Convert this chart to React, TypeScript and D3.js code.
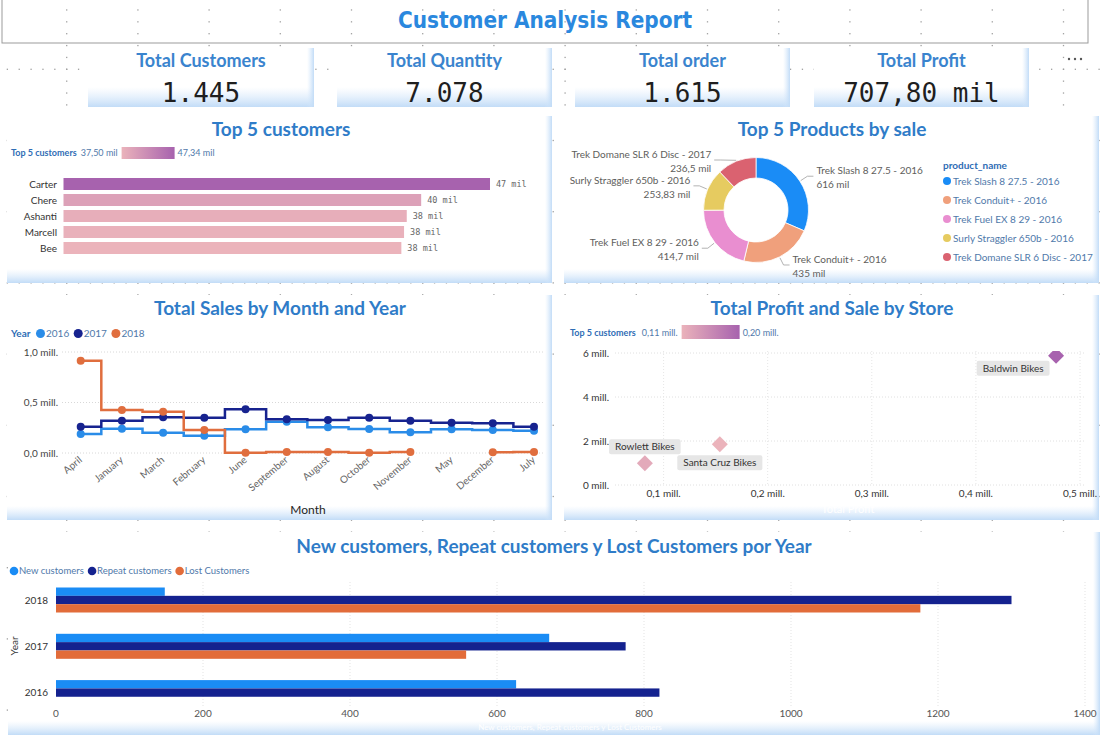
import React from 'react';
import * as d3 from 'd3';

const W = 1107;
const H = 735;

// ---------- data ----------
const kpiLabels = ['Total Customers', 'Total Quantity', 'Total order', 'Total Profit'];
const kpiValues = ['1.445', '7.078', '1.615', '707,80 mil'];

const customerNames = ['Carter', 'Chere', 'Ashanti', 'Marcell', 'Bee'];
const customerSales = [47.34, 39.7, 38.1, 37.8, 37.5]; // mil
const customerRange = [37.5, 47.34];
const customerRangeLabels = ['37,50 mil', '47,34 mil'];

const productNames = [
  'Trek Slash 8 27.5 - 2016',
  'Trek Conduit+ - 2016',
  'Trek Fuel EX 8 29 - 2016',
  'Surly Straggler 650b - 2016',
  'Trek Domane SLR 6 Disc - 2017',
];
const productSales = [616, 435, 414.7, 253.83, 236.5];
const productSalesLabels = ['616 mil', '435 mil', '414,7 mil', '253,83 mil', '236,5 mil'];
const productColors = ['#1A8CF6', '#F0A07C', '#E98ED0', '#E6CB60', '#DA6270'];

const months = ['April', 'January', 'March', 'February', 'June', 'September', 'August', 'October', 'November', 'May', 'December', 'July'];
const salesYears = ['2016', '2017', '2018'];
const sales2016 = [0.188, 0.24, 0.2, 0.17, 0.235, 0.31, 0.254, 0.238, 0.205, 0.235, 0.228, 0.22];
const sales2017 = [0.26, 0.32, 0.353, 0.35, 0.433, 0.334, 0.327, 0.35, 0.32, 0.3, 0.294, 0.26];
const sales2018: (number | null)[] = [0.914, 0.426, 0.409, 0.228, 0.003, 0.01, 0.01, 0.003, 0.01, null, 0.008, 0.01];
const yearColors = ['#2A8CE8', '#17238F', '#E06E3E'];
const salesTicks = [0, 0.5, 1];
const salesTickLabels = ['0,0 mill.', '0,5 mill.', '1,0 mill.'];

const storeNames = ['Baldwin Bikes', 'Santa Cruz Bikes', 'Rowlett Bikes'];
const storeProfit = [0.477, 0.154, 0.082]; // mill.
const storeSales = [5.88, 1.85, 0.99]; // mill.
const storeColorMeasure = [0.2, 0.11, 0.12];
const storeColorRange = [0.11, 0.2];
const storeColorRangeLabels = ['0,11 mill.', '0,20 mill.'];
const storeLabelPlacement = ['leftBelow', 'below', 'above'];
const storeSalesTicks = [0, 2, 4, 6];
const storeSalesTickLabels = ['0 mill.', '2 mill.', '4 mill.', '6 mill.'];
const storeProfitTicks = [0.1, 0.2, 0.3, 0.4, 0.5];
const storeProfitTickLabels = ['0,1 mill.', '0,2 mill.', '0,3 mill.', '0,4 mill.', '0,5 mill.'];

const customerYears = ['2018', '2017', '2016'];
const customerSeries = ['New customers', 'Repeat customers', 'Lost Customers'];
const newCustomers = [148, 671, 626];
const repeatCustomers = [1300, 775, 821];
const lostCustomers = [1176, 558, 0];
const seriesColors = ['#1A8CF5', '#14228F', '#E26C3A'];
const countTicks = [0, 200, 400, 600, 800, 1000, 1200, 1400];

// ---------- styling helpers ----------
const SANS = "Lato, 'Open Sans', sans-serif";
const MONO = "'DejaVu Sans Mono', 'Liberation Mono', monospace";
const TITLE_BLUE = '#2F7CC8';
const LEGEND_TEXT = '#5079AA';

let measureCtx: CanvasRenderingContext2D | null = null;
function textWidth(text: string, font: string): number {
  if (!measureCtx && typeof document !== 'undefined') {
    measureCtx = document.createElement('canvas').getContext('2d');
  }
  if (!measureCtx) return text.length * 5;
  measureCtx.font = font;
  return measureCtx.measureText(text).width;
}

function GridDots() {
  const step = 71.2;
  const x0 = 66.7;
  const y0 = -1.9;
  const dot = step / 6;
  const dots: [number, number][] = [];
  for (let gx = x0; gx < W; gx += step) for (let y = y0; y < H; y += dot) dots.push([gx, y]);
  for (let gy = y0; gy < H; gy += step) for (let x = x0 - step; x < W; x += dot) dots.push([x, gy]);
  return (
    <g fill="#a0a0a0">
      {dots.map(([x, y], i) => (
        <rect key={i} x={x - 0.65} y={y - 0.65} width={1.3} height={1.3} />
      ))}
    </g>
  );
}

function Panel({ x, y, w, h, bottom = 14 }: { x: number; y: number; w: number; h: number; bottom?: number }) {
  return (
    <g>
      <rect x={x} y={y} width={w} height={h} fill="#fff" />
      <rect x={x} y={y + h - bottom} width={w} height={bottom} fill="url(#shadeB)" />
      <rect x={x + w - 7} y={y} width={7} height={h} fill="url(#shadeR)" />
    </g>
  );
}

function PanelTitle({ x, y, text }: { x: number; y: number; text: string }) {
  return (
    <text x={x} y={y} textAnchor="middle" fontFamily={SANS} fontWeight={700} fontSize={19} fill={TITLE_BLUE}>
      {text}
    </text>
  );
}

// ---------- KPI cards ----------
function Cards() {
  const xs = [88, 337, 575, 814];
  const ws = [226, 215, 215, 215];
  return (
    <g>
      {kpiLabels.map((label, i) => (
        <g key={label}>
          <Panel x={xs[i]} y={48} w={ws[i]} h={59} bottom={20} />
          <text x={xs[i] + ws[i] / 2} y={67} textAnchor="middle" fontFamily={SANS} fontWeight={700} fontSize={18} fill="#3A84CE">
            {label}
          </text>
          <text x={xs[i] + ws[i] / 2} y={102} textAnchor="middle" fontFamily={MONO} fontSize={26} fill="#1f1f1f">
            {kpiValues[i]}
          </text>
        </g>
      ))}
      {[0, 1, 2].map((k) => (
        <circle key={k} cx={1069 + k * 6} cy={59} r={1.2} fill="#555" />
      ))}
    </g>
  );
}

// ---------- Top 5 customers ----------
function TopCustomers() {
  const x = d3.scaleLinear().domain([0, customerRange[1]]).range([63.5, 490]);
  const y = d3.scaleBand().domain(customerNames).range([176, 256]).paddingInner(0.25).paddingOuter(0.125);
  const color = d3.scaleLinear<string>().domain(customerRange).range(['#EBB3BB', '#A762AE']);
  const legendFont = `9px ${SANS}`;
  const lx0 = 11;
  const lx1 = lx0 + textWidth('Top 5 customers', `bold ${legendFont}`) + 4;
  const lx2 = lx1 + textWidth(customerRangeLabels[0], legendFont) + 4;
  const lx3 = lx2 + 53 + 3;
  return (
    <g>
      <Panel x={7} y={116} w={545} h={167} />
      <PanelTitle x={281} y={136} text="Top 5 customers" />
      <g fontFamily={SANS} fontSize={9}>
        <text x={lx0} y={156} fontWeight={700} fill="#2F6DB5">Top 5 customers</text>
        <text x={lx1} y={156} fill={LEGEND_TEXT}>{customerRangeLabels[0]}</text>
        <rect x={lx2} y={147} width={53} height={12} fill="url(#custGrad)" />
        <text x={lx3} y={156} fill={LEGEND_TEXT}>{customerRangeLabels[1]}</text>
      </g>
      {customerNames.map((name, i) => {
        const v = customerSales[i];
        const yy = y(name)!;
        const bw = y.bandwidth();
        return (
          <g key={name}>
            <rect x={x(0)} y={yy} width={x(v) - x(0)} height={bw} fill={color(v)} />
            <text x={57} y={yy + bw / 2 + 3.5} textAnchor="end" fontFamily={SANS} fontSize={10} fill="#333">
              {name}
            </text>
            <text x={x(v) + 6} y={yy + bw / 2 + 3} fontFamily={MONO} fontSize={8.5} fill="#666">
              {`${Math.round(v)} mil`}
            </text>
          </g>
        );
      })}
    </g>
  );
}

// ---------- Top 5 products donut ----------
function TopProducts() {
  const cx = 756;
  const cy = 210;
  const R = 52.5;
  const r = 32;
  const arcs = d3.pie<number>().sort(null).value((d) => d)(productSales);
  const arcGen = d3.arc<d3.PieArcDatum<number>>().innerRadius(r).outerRadius(R);
  const minLabelY = 160;
  return (
    <g>
      <Panel x={564} y={116} w={535} h={167} />
      <PanelTitle x={832} y={136} text="Top 5 Products by sale" />
      <g transform={`translate(${cx},${cy})`}>
        {arcs.map((a, i) => (
          <path key={i} d={arcGen(a)!} fill={productColors[i]} stroke="#fff" strokeWidth={0.8} />
        ))}
      </g>
      {arcs.map((a, i) => {
        const mid = (a.startAngle + a.endAngle) / 2;
        const right = Math.sin(mid) > 0;
        const p1 = [cx + (R + 1) * Math.sin(mid), cy - (R + 1) * Math.cos(mid)];
        const r2 = R + 9;
        let ly = cy - r2 * Math.cos(mid);
        ly = Math.max(ly, minLabelY);
        const dx = Math.sqrt(Math.max(0, r2 * r2 - (ly - cy) * (ly - cy)));
        const p2 = [cx + (right ? dx : -dx), ly];
        const p3 = [p2[0] + (right ? 6 : -6), ly];
        const tx = p3[0] + (right ? 3 : -3);
        return (
          <g key={i}>
            <polyline points={`${p1} ${p2} ${p3}`} fill="none" stroke="#a0a0a0" strokeWidth={0.8} />
            <text x={tx} y={ly - 2} textAnchor={right ? 'start' : 'end'} fontFamily={SANS} fontSize={10} fill="#605E5C">
              {productNames[i]}
            </text>
            <text x={tx} y={ly + 12} textAnchor={right ? 'start' : 'end'} fontFamily={SANS} fontSize={10} fill="#605E5C">
              {productSalesLabels[i]}
            </text>
          </g>
        );
      })}
      <text x={943} y={169} fontFamily={SANS} fontSize={10} fontWeight={700} fill="#2F6DB5">
        product_name
      </text>
      {productNames.map((n, i) => (
        <g key={n}>
          <circle cx={947} cy={181 + i * 19} r={4} fill={productColors[i]} />
          <text x={953} y={184.5 + i * 19} fontFamily={SANS} fontSize={10} fill={LEGEND_TEXT}>
            {n}
          </text>
        </g>
      ))}
    </g>
  );
}

// ---------- Total sales by month and year ----------
function SalesByMonth() {
  const x = d3.scalePoint<string>().domain(months).range([80.7, 534]);
  const y = d3.scaleLinear().domain([0, 1]).range([453, 352]);
  const series = [sales2016, sales2017, sales2018];
  const line = d3
    .line<number | null>()
    .defined((d) => d !== null)
    .x((_, i) => x(months[i])!)
    .y((d) => y(d as number))
    .curve(d3.curveStep);
  const legendFont = `10px ${SANS}`;
  let lx = 11 + textWidth('Year', `bold ${legendFont}`) + 10;
  const legendItems = salesYears.map((yr, i) => {
    const item = { yr, cx: lx, tx: lx + 5.5, color: yearColors[i] };
    lx = item.tx + textWidth(yr, legendFont) + 9;
    return item;
  });
  return (
    <g>
      <Panel x={7} y={295} w={545} h={225} />
      <PanelTitle x={280} y={315} text="Total Sales by Month and Year" />
      <g fontFamily={SANS} fontSize={10}>
        <text x={11} y={337} fontWeight={700} fill="#2F6DB5">Year</text>
        {legendItems.map((it) => (
          <g key={it.yr}>
            <circle cx={it.cx} cy={333.5} r={4.5} fill={it.color} />
            <text x={it.tx} y={337} fill={LEGEND_TEXT}>{it.yr}</text>
          </g>
        ))}
      </g>
      {salesTicks.map((t, i) => (
        <g key={t}>
          <line x1={62} x2={545} y1={y(t)} y2={y(t)} stroke="#d8d8d8" strokeDasharray="1,2" />
          <text x={58} y={y(t) + 3.5} textAnchor="end" fontFamily={SANS} fontSize={10} fill="#444">
            {salesTickLabels[i]}
          </text>
        </g>
      ))}
      {series.map((s, k) => (
        <g key={k}>
          <path d={line(s)!} fill="none" stroke={yearColors[k]} strokeWidth={2.5} />
          {s.map((v, i) =>
            v === null ? null : <circle key={i} cx={x(months[i])} cy={y(v)} r={4} fill={yearColors[k]} />
          )}
        </g>
      ))}
      {months.map((m) => (
        <text
          key={m}
          transform={`translate(${x(m)! + 2},${461}) rotate(-40)`}
          textAnchor="end"
          fontFamily={SANS}
          fontSize={10}
          fill="#666"
        >
          {m}
        </text>
      ))}
      <text x={308} y={514} textAnchor="middle" fontFamily={SANS} fontSize={12} fill="#252423">
        Month
      </text>
    </g>
  );
}

// ---------- Total profit and sale by store ----------
function ProfitByStore() {
  const x = d3.scaleLinear().domain([0, 0.5]).range([559.5, 1080]);
  const y = d3.scaleLinear().domain([0, 6]).range([485, 353]);
  const color = d3.scaleLinear<string>().domain(storeColorRange).range(['#EBB3BB', '#A762AE']);
  const diamond = d3.symbol().type(d3.symbolSquare).size(128)()!;
  const legendFont = `9px ${SANS}`;
  const lx0 = 570;
  const lx1 = lx0 + textWidth('Top 5 customers', `bold ${legendFont}`) + 6;
  const lx2 = lx1 + textWidth(storeColorRangeLabels[0], legendFont) + 4;
  const lx3 = lx2 + 58 + 3;
  const labelFont = `10px ${SANS}`;
  return (
    <g>
      <Panel x={564} y={295} w={535} h={225} />
      <PanelTitle x={832} y={315} text="Total Profit and Sale by Store" />
      <g fontFamily={SANS} fontSize={9}>
        <text x={lx0} y={336} fontWeight={700} fill="#2F6DB5">Top 5 customers</text>
        <text x={lx1} y={336} fill={LEGEND_TEXT}>{storeColorRangeLabels[0]}</text>
        <rect x={lx2} y={325} width={58} height={14} fill="url(#storeGrad)" />
        <text x={lx3} y={336} fill={LEGEND_TEXT}>{storeColorRangeLabels[1]}</text>
      </g>
      {storeSalesTicks.map((t, i) => (
        <g key={t}>
          <line x1={615} x2={1085} y1={y(t)} y2={y(t)} stroke="#e0e0e0" strokeDasharray="1,2" />
          <text x={609} y={y(t) + 3.5} textAnchor="end" fontFamily={SANS} fontSize={10} fill="#333">
            {storeSalesTickLabels[i]}
          </text>
        </g>
      ))}
      {storeProfitTicks.map((t, i) => (
        <g key={t}>
          <line x1={x(t)} x2={x(t)} y1={351} y2={485} stroke="#e6e6e6" strokeDasharray="1,2" />
          <text x={x(t)} y={497} textAnchor="middle" fontFamily={SANS} fontSize={10} fill="#333">
            {storeProfitTickLabels[i]}
          </text>
        </g>
      ))}
      <g clipPath="url(#scatterClip)">
        {storeNames.map((n, i) => (
          <path
            key={n}
            d={diamond}
            transform={`translate(${x(storeProfit[i])},${y(storeSales[i])}) rotate(45)`}
            fill={color(storeColorMeasure[i])}
          />
        ))}
      </g>
      {storeNames.map((n, i) => {
        const px = x(storeProfit[i]);
        const py = y(storeSales[i]);
        const bw = textWidth(n, labelFont) + 12;
        const bh = 15;
        let bx = px - bw / 2;
        let by = py + 11;
        if (storeLabelPlacement[i] === 'above') by = py - 9 - bh;
        if (storeLabelPlacement[i] === 'leftBelow') {
          bx = px - 6.5 - bw;
          by = py + 5;
        }
        return (
          <g key={n}>
            <rect x={bx} y={by} width={bw} height={bh} rx={2} fill="#E6E6E6" />
            <text x={bx + bw / 2} y={by + 11} textAnchor="middle" fontFamily={SANS} fontSize={10} fill="#333">
              {n}
            </text>
          </g>
        );
      })}
      <text x={848} y={513} textAnchor="middle" fontFamily={SANS} fontSize={11} fill="#fff">
        Total Profit
      </text>
    </g>
  );
}

// ---------- New / repeat / lost customers ----------
function CustomersByYear() {
  const x = d3.scaleLinear().domain([0, 1400]).range([56, 1085]);
  const y0 = d3.scaleBand().domain(customerYears).range([576.85, 715.75]).paddingInner(0.46).paddingOuter(0.23);
  const y1 = d3.scaleBand().domain(customerSeries).range([0, y0.bandwidth()]);
  const values = [newCustomers, repeatCustomers, lostCustomers];
  const legendFont = `9.5px ${SANS}`;
  let lx = 14;
  const legendItems = customerSeries.map((s, i) => {
    const item = { s, cx: lx, tx: lx + 5, color: seriesColors[i] };
    lx = item.tx + textWidth(s, legendFont) + 8;
    return item;
  });
  return (
    <g>
      <Panel x={8} y={532} w={1092} h={203} />
      <PanelTitle x={554} y={553} text="New customers, Repeat customers y Lost Customers por Year" />
      <g fontFamily={SANS} fontSize={9.5}>
        {legendItems.map((it) => (
          <g key={it.s}>
            <circle cx={it.cx} cy={571} r={4.3} fill={it.color} />
            <text x={it.tx} y={574.3} fill={LEGEND_TEXT}>{it.s}</text>
          </g>
        ))}
      </g>
      {countTicks.map((t) => (
        <g key={t}>
          {t > 0 && <line x1={x(t)} x2={x(t)} y1={582} y2={708} stroke="#e3e3e3" strokeDasharray="1,2" />}
          <text x={x(t)} y={717} textAnchor="middle" fontFamily={SANS} fontSize={10} fill="#555">
            {t}
          </text>
        </g>
      ))}
      {customerYears.map((yr, gi) => (
        <g key={yr}>
          {customerSeries.map((s, si) => {
            const v = values[si][gi];
            if (!v) return null;
            return (
              <rect
                key={s}
                x={x(0)}
                y={y0(yr)! + y1(s)!}
                width={x(v) - x(0)}
                height={y1.bandwidth()}
                fill={seriesColors[si]}
              />
            );
          })}
          <text x={48} y={y0(yr)! + y0.bandwidth() / 2 + 3.5} textAnchor="end" fontFamily={SANS} fontSize={10} fill="#333">
            {yr}
          </text>
        </g>
      ))}
      <text transform="translate(18,646) rotate(-90)" textAnchor="middle" fontFamily={SANS} fontSize={10} fill="#333">
        Year
      </text>
      <text x={570} y={730} textAnchor="middle" fontFamily={SANS} fontSize={8} fill="#fff">
        New customers, Repeat customers y Lost Customers
      </text>
    </g>
  );
}

export default function App() {
  return (
    <svg
      width={W}
      height={H}
      viewBox={`0 0 ${W} ${H}`}
      style={{ position: 'absolute', left: 0, top: 0, background: '#fff', display: 'block' }}
    >
      <defs>
        <linearGradient id="shadeB" x1="0" y1="0" x2="0" y2="1">
          <stop offset="0" stopColor="#d6e8fb" stopOpacity={0} />
          <stop offset="1" stopColor="#c2dcf7" stopOpacity={1} />
        </linearGradient>
        <linearGradient id="shadeR" x1="0" y1="0" x2="1" y2="0">
          <stop offset="0" stopColor="#d6e8fb" stopOpacity={0} />
          <stop offset="1" stopColor="#c2dcf7" stopOpacity={1} />
        </linearGradient>
        <linearGradient id="custGrad" x1="0" y1="0" x2="1" y2="0">
          <stop offset="0" stopColor="#EBB3BB" />
          <stop offset="1" stopColor="#A762AE" />
        </linearGradient>
        <linearGradient id="storeGrad" x1="0" y1="0" x2="1" y2="0">
          <stop offset="0" stopColor="#EBB3BB" />
          <stop offset="1" stopColor="#A762AE" />
        </linearGradient>
        <clipPath id="scatterClip">
          <rect x={612} y={351} width={476} height={137} />
        </clipPath>
      </defs>
      <rect width={W} height={H} fill="#fff" />
      <GridDots />
      <rect x={2} y={-1} width={1086} height={44} fill="none" stroke="#9b9b9b" strokeWidth={1} />
      <text
        x={545}
        y={28}
        textAnchor="middle"
        fontFamily="'Comic Sans MS', 'DejaVu Sans', sans-serif"
        fontWeight={700}
        fontSize={23}
        fill="#2A88DE"
        textLength={294}
        lengthAdjust="spacingAndGlyphs"
      >
        Customer Analysis Report
      </text>
      <Cards />
      <TopCustomers />
      <TopProducts />
      <SalesByMonth />
      <ProfitByStore />
      <CustomersByYear />
    </svg>
  );
}
